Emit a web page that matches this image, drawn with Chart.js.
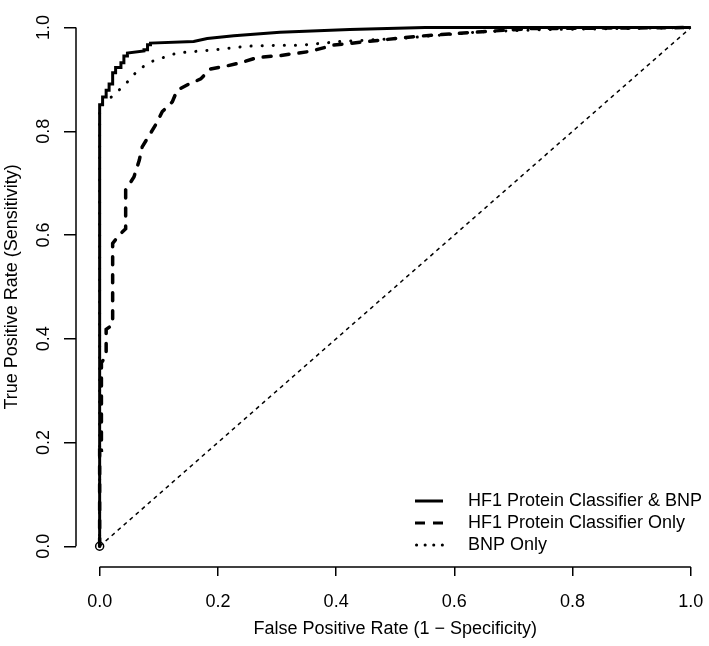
<!DOCTYPE html>
<html>
<head>
<meta charset="utf-8">
<script src="https://cdn.jsdelivr.net/npm/chart.js@4.4.1/dist/chart.umd.min.js"></script>
<style>
  html, body { margin: 0; padding: 0; background: #fff; overflow: hidden; }
  #wrap { position: absolute; left: 0; top: -7px; }
</style>
</head>
<body>
<div id="wrap"><canvas id="roc" width="720" height="653"></canvas></div>
<script>
// ROC curves
const seriesNames = ["HF1 Protein Classifier & BNP", "HF1 Protein Classifier Only", "BNP Only"];

const comboFpr = [0, 0, 0.005, 0.005, 0.011, 0.011, 0.016, 0.016, 0.022, 0.022, 0.027, 0.027, 0.036, 0.036, 0.041, 0.041, 0.047, 0.047, 0.075, 0.075, 0.081, 0.081, 0.086, 0.086, 0.159, 0.182, 0.227, 0.305, 0.423, 0.55, 1];
const comboTpr = [0, 0.851, 0.851, 0.866, 0.866, 0.879, 0.879, 0.891, 0.891, 0.913, 0.913, 0.923, 0.923, 0.932, 0.932, 0.945, 0.945, 0.951, 0.955, 0.957, 0.957, 0.967, 0.967, 0.970, 0.973, 0.979, 0.984, 0.991, 0.996, 1, 1];

const hf1Fpr = [0, 0, 0.003, 0.003, 0.011, 0.011, 0.022, 0.022, 0.033, 0.044, 0.044, 0.058, 0.067, 0.072, 0.095, 0.106, 0.123, 0.131, 0.151, 0.171, 0.187, 0.215, 0.238, 0.266, 0.305, 0.356, 0.395, 0.452, 0.536, 0.647, 0.731, 1];
const hf1Tpr = [0, 0.185, 0.185, 0.354, 0.367, 0.418, 0.427, 0.584, 0.600, 0.612, 0.687, 0.712, 0.744, 0.770, 0.813, 0.838, 0.857, 0.879, 0.891, 0.901, 0.920, 0.926, 0.932, 0.942, 0.946, 0.954, 0.966, 0.973, 0.983, 0.992, 0.998, 1];

const bnpFpr = [0, 0, 0.015, 0.030, 0.040, 0.050, 0.057, 0.067, 0.089, 0.131, 0.193, 0.249, 0.305, 0.340, 0.407, 0.508, 0.647, 0.750, 1];
const bnpTpr = [0, 0.850, 0.861, 0.877, 0.886, 0.899, 0.908, 0.920, 0.935, 0.951, 0.957, 0.964, 0.966, 0.966, 0.973, 0.979, 0.992, 0.996, 1];

const chanceFpr = [0, 1];
const chanceTpr = [0, 1];

const xTicks = [0, 0.2, 0.4, 0.6, 0.8, 1.0];
const yTicks = [0, 0.2, 0.4, 0.6, 0.8, 1.0];

const FONT = '"Liberation Sans", Arial, Helvetica, sans-serif';

function toPoints(xs, ys) {
    return xs.map((v, i) => ({ x: v, y: ys[i] }));
}

// base R look: axis lines only between first and last tick, rotated y labels, legend in the corner
const rStyle = {
    id: 'rStyle',
    afterDraw(chart) {
        const { ctx, scales: { x, y } } = chart;
        ctx.save();
        ctx.strokeStyle = '#000';
        ctx.lineWidth = 1.5;
        ctx.beginPath();
        ctx.moveTo(x.getPixelForValue(xTicks[0]), x.top);
        ctx.lineTo(x.getPixelForValue(xTicks[xTicks.length - 1]), x.top);
        ctx.stroke();
        ctx.beginPath();
        ctx.moveTo(y.right, y.getPixelForValue(yTicks[0]));
        ctx.lineTo(y.right, y.getPixelForValue(yTicks[yTicks.length - 1]));
        ctx.stroke();

        ctx.fillStyle = '#000';
        ctx.font = '18px ' + FONT;
        ctx.textAlign = 'center';
        ctx.textBaseline = 'alphabetic';
        yTicks.forEach(v => {
            ctx.save();
            ctx.translate(49, y.getPixelForValue(v));
            ctx.rotate(-Math.PI / 2);
            ctx.fillText(v.toFixed(1), 0, 0);
            ctx.restore();
        });

        // legend
        const legendDash = [[], [10, 8], [0.1, 8.5]];
        const legendCap = ['butt', 'butt', 'round'];
        ctx.textAlign = 'left';
        ctx.textBaseline = 'middle';
        seriesNames.forEach((name, i) => {
            const rowY = 508 + i * 22;
            ctx.beginPath();
            ctx.lineWidth = 3;
            ctx.setLineDash(legendDash[i]);
            ctx.lineCap = legendCap[i];
            ctx.moveTo(i === 2 ? 416.5 : 415, rowY);
            ctx.lineTo(443, rowY);
            ctx.stroke();
            ctx.fillText(name, 468, rowY);
        });
        ctx.restore();
    }
};

new Chart(document.getElementById('roc'), {
    type: 'scatter',
    data: {
        datasets: [
            {
                label: seriesNames[0],
                data: toPoints(comboFpr, comboTpr),
                showLine: true,
                borderColor: '#000',
                borderWidth: 3,
                borderJoinStyle: 'miter',
                pointRadius: 0,
            },
            {
                label: seriesNames[1],
                data: toPoints(hf1Fpr, hf1Tpr),
                showLine: true,
                borderColor: '#000',
                borderWidth: 3.5,
                borderDash: [8, 10],
                borderCapStyle: 'round',
                pointRadius: 0,
            },
            {
                label: seriesNames[2],
                data: toPoints(bnpFpr, bnpTpr),
                showLine: true,
                borderColor: '#000',
                borderWidth: 3,
                borderDash: [0.1, 11],
                borderCapStyle: 'round',
                pointRadius: 0,
            },
            {
                label: 'chance',
                data: toPoints(chanceFpr, chanceTpr),
                showLine: true,
                borderColor: '#000',
                borderWidth: 1.5,
                borderDash: [4, 4],
                pointRadius: [4, 0],
                pointBorderWidth: 1.5,
                pointBorderColor: '#000',
                pointBackgroundColor: 'rgba(0,0,0,0)',
            },
        ],
    },
    options: {
        responsive: false,
        animation: false,
        layout: { padding: { left: 0, right: 4, top: 0, bottom: 0 } },
        plugins: {
            legend: { display: false },
            tooltip: { enabled: false },
        },
        scales: {
            x: {
                type: 'linear',
                min: -0.04,
                max: 1.04,
                afterBuildTicks: s => { s.ticks = xTicks.map(v => ({ value: v })); },
                afterFit: s => { s.height = 79; },
                border: { display: false },
                grid: { drawOnChartArea: false, drawTicks: true, tickLength: 9, color: '#000', lineWidth: 1.5 },
                ticks: {
                    color: '#000',
                    font: { family: FONT, size: 18 },
                    padding: 15,
                    maxRotation: 0,
                    callback: v => v.toFixed(1),
                },
                title: {
                    display: true,
                    text: 'False Positive Rate (1 \u2212 Specificity)',
                    color: '#000',
                    font: { family: FONT, size: 18 },
                    padding: { top: 0, bottom: 6 },
                },
            },
            y: {
                type: 'linear',
                min: -0.04,
                max: 1.04,
                afterBuildTicks: s => { s.ticks = yTicks.map(v => ({ value: v })); },
                afterFit: s => { s.width = 76; },
                border: { display: false },
                grid: { drawOnChartArea: false, drawTicks: true, tickLength: 12, color: '#000', lineWidth: 1.5 },
                ticks: {
                    color: 'rgba(0,0,0,0)',
                    font: { family: FONT, size: 18 },
                    callback: v => v.toFixed(1),
                },
                title: {
                    display: true,
                    text: 'True Positive Rate (Sensitivity)',
                    color: '#000',
                    font: { family: FONT, size: 18 },
                    padding: { top: 1, bottom: 0 },
                },
            },
        },
    },
    plugins: [rStyle],
});
</script>
</body>
</html>
